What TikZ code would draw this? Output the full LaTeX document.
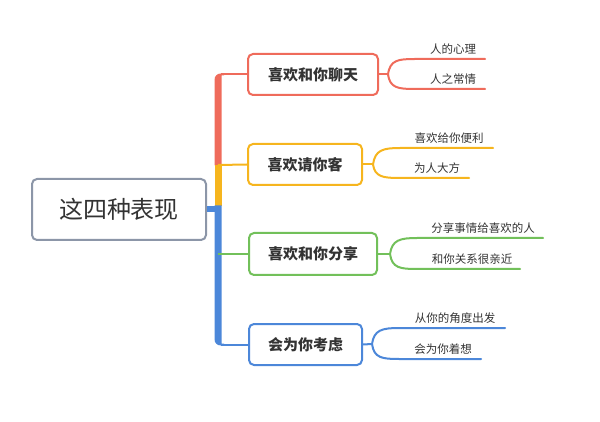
\documentclass[tikz,border=0pt]{standalone}
\usepackage{fontspec}
\setmainfont{Noto Sans CJK SC}
\definecolor{cred}{HTML}{EF6B5B}
\definecolor{corange}{HTML}{F6B51E}
\definecolor{cgreen}{HTML}{72C05A}
\definecolor{cblue}{HTML}{4C87D9}
\definecolor{cgray}{HTML}{8C96A8}
\definecolor{ctext}{HTML}{333333}
\begin{document}
\begin{tikzpicture}[x=1pt,y=-1pt,
  rootbox/.style={draw=cgray,line width=2pt,rounded corners=5pt,fill=white,text=ctext,font=\fontsize{24}{26}\selectfont},
  branchbox/.style={draw=#1,line width=2pt,rounded corners=5pt,fill=white,text=ctext,font=\fontsize{15}{17}\selectfont\bfseries},
  leaftext/.style={text=ctext,font=\fontsize{11.5}{13}\selectfont,anchor=south,inner sep=1pt},
  trunk/.style={line width=7pt,#1},
  link/.style={line width=2pt,#1},
  leafline/.style={line width=2pt,#1,line cap=round}]
\useasboundingbox (0,0) rectangle (600,422);
% root
\node[rootbox,minimum width=174pt,minimum height=61pt] (root) at (119,209.5) {这四种表现};
% branch boxes
\node[branchbox=cred,minimum width=130pt,minimum height=41pt] (b1) at (313,74.5) {喜欢和你聊天};
\node[branchbox=corange,minimum width=114pt,minimum height=41pt] (b2) at (305,164.5) {喜欢请你客};
\node[branchbox=cgreen,minimum width=128pt,minimum height=42pt] (b3) at (313,254) {喜欢和你分享};
\node[branchbox=cblue,minimum width=113pt,minimum height=41pt] (b4) at (305.5,344.5) {会为你考虑};
% trunk coordinates
\coordinate (t0) at (221,74.5);
\coordinate (t1) at (218,165);
\coordinate (t2) at (218,206);
\coordinate (t3) at (221,344.5);
% trunk
\fill[cred] (214.5,165.5) -- (214.5,80) .. controls (214.5,76) and (217,73.5) .. (221,73.5)
  -- (224,73.5) -- (224,75.5) -- (221.5,75.5) -- (221.5,165.5) -- cycle;
\draw[link=cred] (t0) -- (b1.west);
\draw[link=corange] (t1) -- (b2.west);
\draw[trunk=corange] (t2) -- (t1);
\fill[cblue] (214.5,205.5) -- (214.5,339) .. controls (214.5,343) and (217,345.5) .. (221,345.5)
  -- (224,345.5) -- (224,343.5) -- (221.5,343.5) -- (221.5,205.5) -- cycle;
\draw[link=cblue] (t3) -- (b4.west);
\draw[line width=6pt,cblue] (root.east) -- (root.east -| t2);
\draw[link=cgreen] (b3.west -| t2) -- (b3.west);
% leaves branch 1
\coordinate (s1) at (388,74.5);
\coordinate (e11) at (485,59);
\coordinate (e12) at (485,89);
\draw[link=cred] (b1.east) -- (s1);
\draw[leafline=cred] (s1) .. controls (390,60) and (398,59) .. (415,59) -- (e11);
\draw[leafline=cred] (s1) .. controls (390,88) and (398,89) .. (415,89) -- (e12);
\node[leaftext] (l11) at (453,56) {人的心理};
\node[leaftext] (l12) at (453,86) {人之常情};
% leaves branch 2
\coordinate (s2) at (373,164.5);
\coordinate (e21) at (493,148);
\coordinate (e22) at (469,178);
\draw[link=corange] (b2.east) -- (s2);
\draw[leafline=corange] (s2) .. controls (375,150) and (383,148) .. (400,148) -- (e21);
\draw[leafline=corange] (s2) .. controls (375,177) and (383,178) .. (400,178) -- (e22);
\node[leaftext] (l21) at (449,145) {喜欢给你便利};
\node[leaftext] (l22) at (437,175) {为人大方};
% leaves branch 3
\coordinate (s3) at (390,254);
\coordinate (e31) at (543,238);
\coordinate (e32) at (520,269);
\draw[link=cgreen] (b3.east) -- (s3);
\draw[leafline=cgreen] (s3) .. controls (392,240) and (400,238) .. (417,238) -- (e31);
\draw[leafline=cgreen] (s3) .. controls (392,268) and (400,269) .. (417,269) -- (e32);
\node[leaftext] (l31) at (483,235) {分享事情给喜欢的人};
\node[leaftext] (l32) at (472,266) {和你关系很亲近};
% leaves branch 4
\coordinate (s4) at (372,344);
\coordinate (e41) at (505,328);
\coordinate (e42) at (481,359);
\draw[link=cblue] (b4.east) -- (s4);
\draw[leafline=cblue] (s4) .. controls (374,330) and (382,328) .. (399,328) -- (e41);
\draw[leafline=cblue] (s4) .. controls (374,358) and (382,359) .. (399,359) -- (e42);
\node[leaftext] (l41) at (455,325) {从你的角度出发};
\node[leaftext] (l42) at (443,356) {会为你着想};
\end{tikzpicture}
\end{document}
